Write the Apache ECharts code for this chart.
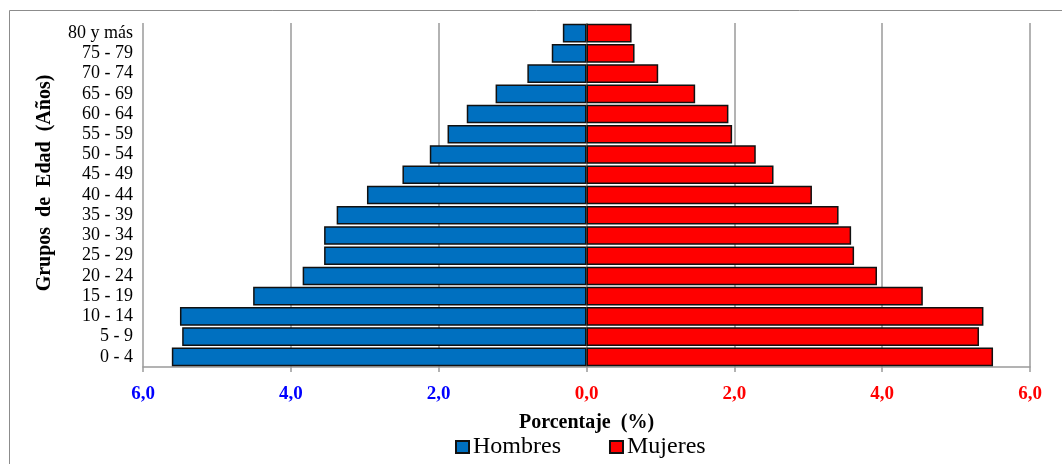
<!DOCTYPE html>
<html>
<head>
<meta charset="utf-8">
<script src="https://cdn.jsdelivr.net/npm/echarts@6/dist/echarts.min.js"></script>
<style>html,body{margin:0;padding:0;background:#fff}#c{width:1062px;height:464px}</style>
</head>
<body>
<div id="c"></div>
<script>
// Age groups, bottom to top
var categories = ['0 - 4','5 - 9','10 - 14','15 - 19','20 - 24','25 - 29','30 - 34','35 - 39','40 - 44','45 - 49','50 - 54','55 - 59','60 - 64','65 - 69','70 - 74','75 - 79','80 y más'];
var hombres = [5.61, 5.47, 5.50, 4.51, 3.84, 3.55, 3.55, 3.38, 2.97, 2.49, 2.12, 1.88, 1.62, 1.23, 0.80, 0.47, 0.32];
var mujeres = [5.50, 5.31, 5.37, 4.55, 3.93, 3.62, 3.58, 3.41, 3.05, 2.53, 2.29, 1.97, 1.92, 1.47, 0.97, 0.65, 0.61];
var xTicks = [-6, -4, -2, 0, 2, 4, 6];

var serif = '"Liberation Serif", "DejaVu Serif", serif';
var chart = echarts.init(document.getElementById('c'), null, {renderer: 'canvas'});
chart.setOption({
  backgroundColor: '#fff',
  animation: false,
  graphic: [{
    type: 'rect', shape: {x: 9.5, y: 10.5, width: 1070, height: 480},
    style: {fill: 'none', stroke: '#8c8c8c', lineWidth: 1}, silent: true, z: -10
  }],
  grid: {left: 143, right: 32, top: 23, bottom: 97},
  legend: {
    data: ['Hombres', 'Mujeres'],
    bottom: 0, left: 450,
    icon: 'rect', itemWidth: 13, itemHeight: 12, itemGap: 48,
    textStyle: {fontFamily: serif, fontSize: 24, color: '#000', padding: [0, 0, 0, -1]}
  },
  xAxis: {
    type: 'value', min: xTicks[0], max: xTicks[xTicks.length - 1], interval: 2,
    name: 'Porcentaje  (%)', nameLocation: 'middle', nameGap: 46,
    nameTextStyle: {fontFamily: serif, fontSize: 20, fontWeight: 'bold', color: '#000'},
    axisLine: {show: true, lineStyle: {color: '#9a9a9a', width: 1.5}},
    axisTick: {show: true, length: 5, lineStyle: {color: '#9a9a9a', width: 1.5}},
    splitLine: {show: true, lineStyle: {color: '#9a9a9a', width: 1.5}},
    axisLabel: {
      margin: 18,
      formatter: function (v) {
        var s = Math.abs(v).toFixed(1).replace('.', ',');
        return v < 0 ? '{b|' + s + '}' : '{r|' + s + '}';
      },
      rich: {
        b: {color: '#0000ff', fontFamily: serif, fontSize: 19, fontWeight: 'bold'},
        r: {color: '#ff0000', fontFamily: serif, fontSize: 19, fontWeight: 'bold'}
      }
    }
  },
  yAxis: {
    type: 'category', data: categories,
    name: 'Grupos  de  Edad  (Años)', nameLocation: 'middle', nameGap: 88,
    nameTextStyle: {fontFamily: serif, fontSize: 20, fontWeight: 'bold', color: '#000', padding: [0, 0, 0, 24]},
    axisLine: {show: false}, axisTick: {show: false},
    axisLabel: {fontFamily: serif, fontSize: 18, color: '#000', margin: 10, interval: 0}
  },
  series: [
    {
      name: 'Hombres', type: 'bar', stack: 'p', barCategoryGap: '8%',
      data: hombres.map(function (v) { return -v; }),
      itemStyle: {color: '#0070c0', borderColor: '#111', borderWidth: 1.5}
    },
    {
      name: 'Mujeres', type: 'bar', stack: 'p', barCategoryGap: '8%',
      data: mujeres,
      itemStyle: {color: '#ff0000', borderColor: '#111', borderWidth: 1.5}
    }
  ]
});
</script>
</body>
</html>
